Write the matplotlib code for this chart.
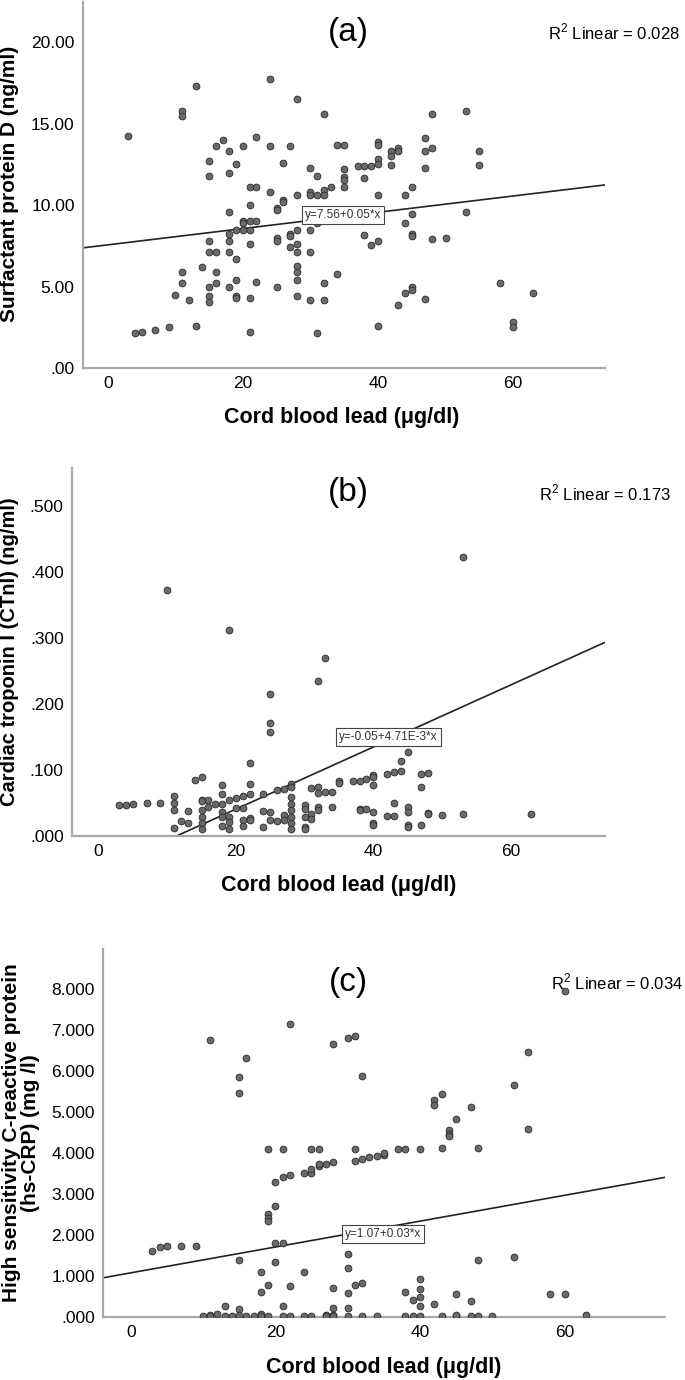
import numpy as np
import matplotlib
matplotlib.use("Agg")
import matplotlib.pyplot as plt

plt.rcParams['font.family'] = ['Liberation Sans', 'DejaVu Sans']
plt.rcParams['mathtext.fontset'] = 'custom'
plt.rcParams['mathtext.rm'] = 'Liberation Sans'

# (a) cord blood lead vs surfactant protein D
leadA = [3, 4, 5, 7, 9, 10, 11, 11, 11, 11, 12, 13, 13, 14,
         15, 15, 15, 15, 15, 15, 15, 16, 16, 16, 16, 17,
         18, 18, 18, 18, 18, 18, 18, 19, 19, 19, 19, 19, 19,
         20, 20, 20, 20, 21, 21, 21, 21, 21, 21, 21, 22, 22, 22, 22,
         24, 24, 24, 25, 25, 25, 25, 25, 26, 26, 26, 27, 27, 27, 27,
         28, 28, 28, 28, 28, 28, 28, 28, 28, 30, 30, 30, 30, 30, 30,
         31, 31, 31, 31, 32, 32, 32, 32, 32, 33, 34, 34,
         35, 35, 35, 35, 35, 37, 38, 38, 38, 39, 39,
         40, 40, 40, 40, 40, 40, 40, 42, 42, 42, 43, 43, 43,
         44, 44, 44, 45, 45, 45, 45, 45, 45, 47, 47, 47, 47,
         48, 48, 48, 50, 53, 53, 55, 55, 58, 60, 60, 63]
sfpd = [14.27, 2.17, 2.2, 2.35, 2.5, 4.5, 15.8, 15.5, 5.9, 5.2, 4.2, 17.34, 2.6, 6.2,
        12.7, 11.8, 7.8, 7.1, 5.0, 4.4, 4.07, 13.6, 7.1, 5.9, 5.2, 14.0,
        13.3, 12.0, 9.55, 8.2, 7.8, 7.1, 5.0, 12.5, 8.5, 6.7, 5.4, 4.4, 4.3,
        13.6, 9.05, 8.9, 8.5, 11.1, 10.0, 9.05, 8.5, 7.6, 4.3, 2.2, 14.2, 11.1, 9.05, 5.3,
        17.75, 13.6, 10.8, 9.8, 9.7, 8.0, 7.8, 5.0, 12.6, 10.3, 10.2, 13.6, 8.2, 8.1, 7.4,
        16.5, 10.65, 8.5, 7.6, 7.15, 6.25, 5.9, 5.4, 4.4, 12.3, 10.8, 10.65, 8.45, 7.15, 4.2,
        11.8, 10.65, 8.9, 2.17, 15.6, 10.9, 10.65, 5.2, 4.2, 11.1, 13.7, 5.8,
        13.7, 12.2, 11.75, 11.55, 11.1, 12.4, 12.4, 11.65, 8.15, 12.4, 7.55,
        13.85, 13.7, 12.85, 12.5, 10.65, 7.8, 2.58, 13.3, 13.0, 12.45, 13.5, 13.3, 3.85,
        10.65, 8.9, 4.6, 11.1, 9.45, 8.2, 8.1, 5.0, 4.8, 14.1, 13.3, 12.3, 4.25,
        15.6, 13.5, 7.9, 8.0, 15.8, 9.55, 13.3, 12.45, 5.2, 2.85, 2.5, 4.6]

# (b) cord blood lead vs cardiac troponin I
leadB = [3, 4, 5, 7, 9, 10, 11, 11, 11, 11, 12, 13, 13, 14,
         15, 15, 15, 15, 15, 15, 15, 16, 16, 17,
         18, 18, 18, 18, 18, 18, 19, 19, 19, 19, 19, 20, 20,
         21, 21, 21, 21, 22, 22, 22, 22, 22, 24, 24, 24,
         25, 25, 25, 25, 25, 26, 26, 27, 27, 27,
         28, 28, 28, 28, 28, 28, 28, 28, 30, 30, 30, 30, 30,
         31, 31, 31, 32, 32, 32, 32, 32, 33, 33, 34, 34, 35, 35,
         37, 38, 38, 38, 39, 39, 40, 40, 40, 40, 40, 40,
         42, 42, 43, 43, 43, 44, 44, 45, 45, 45, 45, 45,
         47, 47, 47, 48, 48, 48, 50, 53, 53, 63]
ctni = [0.0465, 0.047, 0.049, 0.0505, 0.0505, 0.3726, 0.0607, 0.0505, 0.040, 0.012,
        0.023, 0.038, 0.019, 0.085,
        0.0895, 0.055, 0.053, 0.039, 0.029, 0.019, 0.011, 0.054, 0.044, 0.049,
        0.077, 0.064, 0.049, 0.036, 0.029, 0.015, 0.312, 0.055, 0.029, 0.021, 0.011,
        0.058, 0.043,
        0.060, 0.043, 0.024, 0.015, 0.111, 0.079, 0.063, 0.028, 0.024, 0.064, 0.038, 0.014,
        0.216, 0.171, 0.158, 0.036, 0.025, 0.069, 0.023, 0.072, 0.032, 0.025,
        0.079, 0.074, 0.059, 0.049, 0.039, 0.029, 0.019, 0.011, 0.047, 0.041, 0.029,
        0.014, 0.011,
        0.073, 0.034, 0.026, 0.235, 0.074, 0.065, 0.044, 0.039, 0.270, 0.066, 0.067,
        0.044, 0.083, 0.081,
        0.083, 0.084, 0.0415, 0.039, 0.087, 0.041, 0.092, 0.0895, 0.078, 0.036, 0.019, 0.017,
        0.0935, 0.031, 0.097, 0.050, 0.031, 0.113, 0.0985, 0.127, 0.044, 0.036, 0.016, 0.014,
        0.0945, 0.075, 0.016, 0.096, 0.035, 0.033, 0.032, 0.423, 0.033, 0.033]

# (c) cord blood lead vs hs-CRP
leadC = [3, 4, 5, 7, 9, 11, 15, 15, 15, 16,
         19, 21, 25, 26, 31, 22, 28, 30, 31, 32,
         20, 21, 22, 24, 25, 25, 26, 26, 27, 28, 31, 32, 33, 34, 35, 35,
         37, 38, 40, 43, 48, 42, 42, 43, 47, 45, 44, 44, 44, 53, 55, 55, 60,
         19, 19, 19, 20, 20, 21, 20, 18, 18, 19, 22, 24, 28, 30, 30, 30, 31, 32, 32,
         13, 15, 21, 28, 30, 48, 53, 58, 60, 38, 39, 40, 40, 40, 40, 42, 45, 47,
         10, 11, 11, 12, 13, 14, 15, 16, 17, 18, 18, 19, 21, 22, 24, 25, 27, 27,
         28, 28, 30, 32, 34, 38, 39, 40, 43, 45, 45, 47, 48, 50, 63]
crp = [1.60, 1.71, 1.72, 1.74, 1.74, 6.76, 5.85, 5.46, 1.40, 6.31,
       4.1, 4.1, 4.1, 4.1, 4.1, 7.15, 6.65, 6.81, 6.85, 5.87,
       3.29, 3.41, 3.47, 3.52, 3.51, 3.60, 3.68, 3.72, 3.74, 3.77, 3.80, 3.84, 3.89,
       3.93, 3.94, 4.0,
       4.1, 4.1, 4.1, 4.12, 4.11, 5.28, 5.16, 5.44, 5.13, 4.83, 4.55, 4.47, 4.41,
       5.66, 6.45, 4.59, 7.95,
       2.5, 2.42, 2.34, 2.71, 1.80, 1.80, 1.33, 1.10, 0.62, 0.77, 0.76, 1.10, 0.70,
       1.53, 1.20, 0.59, 0.77, 0.84, 1.89,
       0.28, 0.19, 0.27, 0.21, 0.21, 1.39, 1.46, 0.56, 0.57, 0.61, 0.42, 0.92, 0.69,
       0.49, 0.27, 0.31, 0.55, 0.39,
       0.02, 0.06, 0.02, 0.07, 0.02, 0.02, 0.06, 0.02, 0.02, 0.08, 0.02, 0.02, 0.02,
       0.02, 0.02, 0.02, 0.05, 0.02, 0.06, 0.02, 0.02, 0.02, 0.02, 0.02, 0.02, 0.02,
       0.02, 0.02, 0.05, 0.02, 0.02, 0.02, 0.04]

# fit lines (intercept, slope) and printed text
fitA, eqA, r2A = (7.56, 0.05), "y=7.56+0.05*x", "0.028"
fitB, eqB, r2B = (-0.0535, 0.00471), "y=-0.05+4.71E-3*x", "0.173"
fitC, eqC, r2C = (1.076, 0.0315), "y=1.07+0.03*x", "0.034"

yticksA = [0, 5, 10, 15, 20]
ylabelsA = ['.00', '5.00', '10.00', '15.00', '20.00']
yticksB = [0, 0.1, 0.2, 0.3, 0.4, 0.5]
ylabelsB = ['.000', '.100', '.200', '.300', '.400', '.500']
yticksC = [0, 1, 2, 3, 4, 5, 6, 7, 8]
ylabelsC = ['.000', '1.000', '2.000', '3.000', '4.000', '5.000', '6.000', '7.000', '8.000']
xticks = [0, 20, 40, 60]

W, H = 685, 1380
fig = plt.figure(figsize=(W / 100, H / 100), dpi=100)


def panel(box_px, xlim, ylim, x, y, fit, eq, eq_pos, yticks, ylabels):
    l, t, r, b = box_px
    ax = fig.add_axes([l / W, 1 - b / H, (r - l) / W, (b - t) / H])
    ax.scatter(x, y, s=24, facecolor='#6a6a6a', edgecolor='#2a2a2a', linewidth=0.6, zorder=3)
    xs = np.array(xlim)
    ax.plot(xs, fit[0] + fit[1] * xs, color='#222222', lw=1.2, zorder=2)
    ax.text(eq_pos[0], eq_pos[1], eq, ha='center', va='center', fontsize=8.5,
            color='#333333', zorder=4,
            bbox=dict(boxstyle='square,pad=0.25', fc='white', ec='#444444', lw=0.8))
    ax.set_xlim(xlim)
    ax.set_ylim(ylim)
    ax.set_xticks(xticks)
    ax.set_xticklabels([str(v) for v in xticks])
    ax.set_yticks(yticks)
    ax.set_yticklabels(ylabels)
    for s in ['top', 'right']:
        ax.spines[s].set_visible(False)
    for s in ['left', 'bottom']:
        ax.spines[s].set_color('#a8a8a8')
        ax.spines[s].set_linewidth(1.6)
    ax.tick_params(length=0, pad=6, labelsize=12.5)
    return ax


panel((83, 2, 605, 368), (-3.66, 73.6), (0, 22.47), leadA, sfpd, fitA, eqA, (34.8, 9.4),
      yticksA, ylabelsA)
panel((72, 468, 605, 836), (-3.84, 73.7), (0, 0.558), leadB, ctni, fitB, eqB, (42.2, 0.150),
      yticksB, ylabelsB)
panel((103, 949, 665, 1317), (-3.83, 73.9), (0, 8.97), leadC, crp, fitC, eqC, (34.9, 2.03),
      yticksC, ylabelsC)

# panel letters, R2 notes and axis titles
for tag, ty, r2, rx in [('(a)', 32, r2A, 680), ('(b)', 493, r2B, 671), ('(c)', 982, r2C, 683)]:
    fig.text(348 / W, 1 - ty / H, tag, ha='center', va='center', fontsize=24)
    fig.text(rx / W, 1 - ty / H, 'R$^{2}$ Linear = ' + r2, ha='right', va='center',
             fontsize=12)

xlab = 'Cord blood lead (μg/dl)'
for cx, cy in [(342, 418), (339, 885), (384, 1368)]:
    fig.text(cx / W, 1 - cy / H, xlab, ha='center', va='center', fontsize=15.5, fontweight='bold')

fig.text(10 / W, 1 - 184 / H, 'Surfactant protein D (ng/ml)', rotation=90,
         ha='center', va='center', fontsize=15, fontweight='bold')
fig.text(10 / W, 1 - 652 / H, 'Cardiac troponin I (CTnI) (ng/ml)', rotation=90,
         ha='center', va='center', fontsize=14.5, fontweight='bold')
fig.text(21 / W, 1 - 1133 / H, 'High sensitivity C-reactive protein\n(hs-CRP) (mg /l)',
         rotation=90, ha='center', va='center', fontsize=15, fontweight='bold',
         multialignment='center', linespacing=1.0)

fig.savefig('out.png', dpi=100, facecolor='white')
